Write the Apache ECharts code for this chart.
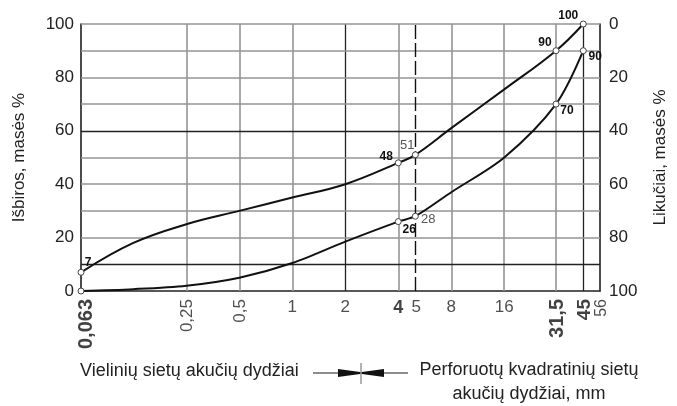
<!DOCTYPE html>
<html>
<head>
<meta charset="utf-8">
<script src="https://cdn.jsdelivr.net/npm/echarts@6/dist/echarts.min.js"></script>
<style>
html,body{margin:0;padding:0;background:#fff;}
#chart{width:677px;height:406px;}
</style>
</head>
<body>
<div id="chart"></div>
<script>
// ---- data ----
const sieveX = [0.063, 0.125, 0.25, 0.5, 1, 2, 4, 5, 8, 16, 31.5, 45];
const upperPassing = [7, 18, 25, 30, 35, 40, 48, 51, 61, 75.5, 90, 100];
const lowerPassing = [0, 0.7, 2, 5, 10.5, 18.5, 26, 28, 37, 50, 70, 90];
const markedSieves = [0.063, 4, 5, 31.5, 45];
const upperMarkLabels = ['7', '48', '51', '90', '100'];
const lowerMarkLabels = ['', '26', '28', '70', '90'];
const xTicks = [0.063, 0.25, 0.5, 1, 2, 4, 5, 8, 16, 31.5, 45, 56];
const xTickLabels = ['0,063', '0,25', '0,5', '1', '2', '4', '5', '8', '16', '31,5', '45', '56'];
const vGrid = [0.25, 0.5, 1, 2, 4, 8, 16, 31.5, 45];
const hGrid = [10, 20, 30, 40, 50, 60, 70, 80, 90, 100];
const dashedSieve = 5;

// ---- styles ----
const TXT = '#222';
const FONT = '"Liberation Sans", Arial, sans-serif';
const GRAY = '#959595';
const DARK = '#222';
const darkV = [2, 45];
const darkH = [10, 60];
const rotatedTicks = ['0,063', '0,25', '0,5', '31,5', '45', '56'];
const boldTicks = ['0,063', '4', '31,5', '45'];
const tickDx = { '0,063': 5, '0,25': 1, '0,5': 1, '31,5': 1, '45': 1, '56': 2, '4': 0, '5': 1 };
const tickSize = { '0,063': 20, '31,5': 20, '45': 19, '56': 16, '4': 18 };

// label offsets for marked points
const upperOffsets = { '7': [7, -10], '48': [-12, -6], '51': [-8, -9], '90': [-11, -8], '100': [-15, -8] };
const lowerOffsets = { '26': [11, 8], '28': [13, 3], '70': [11, 7], '90': [12, 6] };
const normalMark = ['51', '28'];

function curveData(ys, labels, offsets) {
  return sieveX.map((x, i) => {
    const mi = markedSieves.indexOf(x);
    if (mi < 0) return { value: [x, ys[i]], symbol: 'none' };
    const lab = labels[mi];
    const item = { value: [x, ys[i]], symbol: 'circle', symbolSize: 6 };
    if (lab) {
      const isNormal = normalMark.indexOf(lab) >= 0;
      item.label = {
        show: true, formatter: lab, position: 'inside', offset: offsets[lab],
        color: isNormal ? '#555' : '#111', fontWeight: isNormal ? 'normal' : 'bold',
        fontSize: isNormal ? 13 : 12, fontFamily: FONT, align: 'center', verticalAlign: 'middle'
      };
    }
    return item;
  });
}

const tickData = xTicks.map((x, i) => {
  const lab = xTickLabels[i];
  const rot = rotatedTicks.indexOf(lab) >= 0;
  const bold = boldTicks.indexOf(lab) >= 0;
  const dx = tickDx[lab] || 0;
  return {
    value: [x, 0],
    label: {
      show: true, formatter: lab,
      position: [1 + dx, 1 + 8],
      rotate: rot ? 90 : 0,
      align: rot ? 'right' : 'center',
      verticalAlign: rot ? 'middle' : 'top',
      fontSize: tickSize[lab] || 17,
      fontWeight: bold ? 'bold' : 'normal',
      color: bold ? '#111' : TXT,
      fontFamily: FONT
    }
  };
});

const markLines = [];
vGrid.forEach(v => markLines.push({ xAxis: v, lineStyle: { color: darkV.indexOf(v) >= 0 ? DARK : GRAY, width: darkV.indexOf(v) >= 0 ? 1.3 : 1.6, type: 'solid' } }));
hGrid.forEach(v => markLines.push({ yAxis: v, lineStyle: { color: darkH.indexOf(v) >= 0 ? DARK : GRAY, width: darkH.indexOf(v) >= 0 ? 1.3 : 1.6, type: 'solid' } }));
markLines.push({ xAxis: dashedSieve, lineStyle: { color: '#111', width: 1.4, type: [14, 4] } });

const chart = echarts.init(document.getElementById('chart'), null, { renderer: 'canvas' });
chart.setOption({
  animation: false,
  backgroundColor: '#fff',
  grid: { left: 81, right: 73, top: 24, bottom: 115, containLabel: false },
  xAxis: {
    type: 'log', logBase: 2, min: 0.063, max: 56,
    axisLine: { show: true, lineStyle: { color: '#222', width: 1.5 } },
    axisTick: { show: false }, axisLabel: { show: false },
    splitLine: { show: false }, minorSplitLine: { show: false }
  },
  yAxis: [
    {
      type: 'value', min: 0, max: 100, interval: 20, position: 'left',
      axisLine: { show: true, lineStyle: { color: '#111', width: 1.5 } },
      axisTick: { show: false }, splitLine: { show: false },
      axisLabel: { color: TXT, fontSize: 17, fontFamily: FONT, margin: 7 },
      name: 'Išbiros, masės %', nameLocation: 'middle', nameRotate: 90, nameGap: 53,
      nameTextStyle: { color: TXT, fontSize: 17, fontFamily: FONT }
    },
    {
      type: 'value', min: 0, max: 100, interval: 20, inverse: true, position: 'right',
      axisLine: { show: true, lineStyle: { color: '#111', width: 1.5 } },
      axisTick: { show: false }, splitLine: { show: false },
      axisLabel: { color: TXT, fontSize: 17, fontFamily: FONT, margin: 9 },
      name: 'Likučiai, masės %', nameLocation: 'middle', nameRotate: 90, nameGap: 52,
      nameTextStyle: { color: TXT, fontSize: 17, fontFamily: FONT }
    }
  ],
  series: [
    {
      name: 'ticks', type: 'scatter', data: tickData, symbol: 'circle', symbolSize: 2,
      itemStyle: { color: 'rgba(0,0,0,0)' }, clip: false, silent: true, z: 1,
      markLine: { silent: true, symbol: 'none', label: { show: false }, data: markLines, animation: false }
    },
    {
      name: 'upper', type: 'line', data: curveData(upperPassing, upperMarkLabels, upperOffsets),
      smooth: 0.4, clip: false, z: 5,
      lineStyle: { color: '#111', width: 2 },
      itemStyle: { color: '#fff', borderColor: '#444', borderWidth: 1 }
    },
    {
      name: 'lower', type: 'line', data: curveData(lowerPassing, lowerMarkLabels, lowerOffsets),
      smooth: 0.3, clip: false, z: 5,
      lineStyle: { color: '#111', width: 2 },
      itemStyle: { color: '#fff', borderColor: '#444', borderWidth: 1 }
    }
  ],
  graphic: [
    { type: 'text', left: 80, top: 362, style: { text: 'Vielinių sietų akučių dydžiai', fill: TXT, font: '18px ' + FONT } },
    { type: 'line', shape: { x1: 313, y1: 373, x2: 408, y2: 373 }, style: { stroke: '#666', lineWidth: 1.5 } },
    { type: 'polygon', shape: { points: [[338, 369], [360, 372], [360, 374], [338, 377]] }, style: { fill: '#111' } },
    { type: 'polygon', shape: { points: [[384, 369], [362, 372], [362, 374], [384, 377]] }, style: { fill: '#111' } },
    { type: 'line', shape: { x1: 361, y1: 363, x2: 361, y2: 384 }, style: { stroke: '#666', lineWidth: 1 } },
    { type: 'text', x: 529, y: 370, style: { text: 'Perforuotų kvadratinių sietų', fill: TXT, font: '18px ' + FONT, align: 'center', verticalAlign: 'middle' } },
    { type: 'text', x: 529, y: 394, style: { text: 'akučių dydžiai, mm', fill: TXT, font: '18px ' + FONT, align: 'center', verticalAlign: 'middle' } }
  ]
});
</script>
</body>
</html>
